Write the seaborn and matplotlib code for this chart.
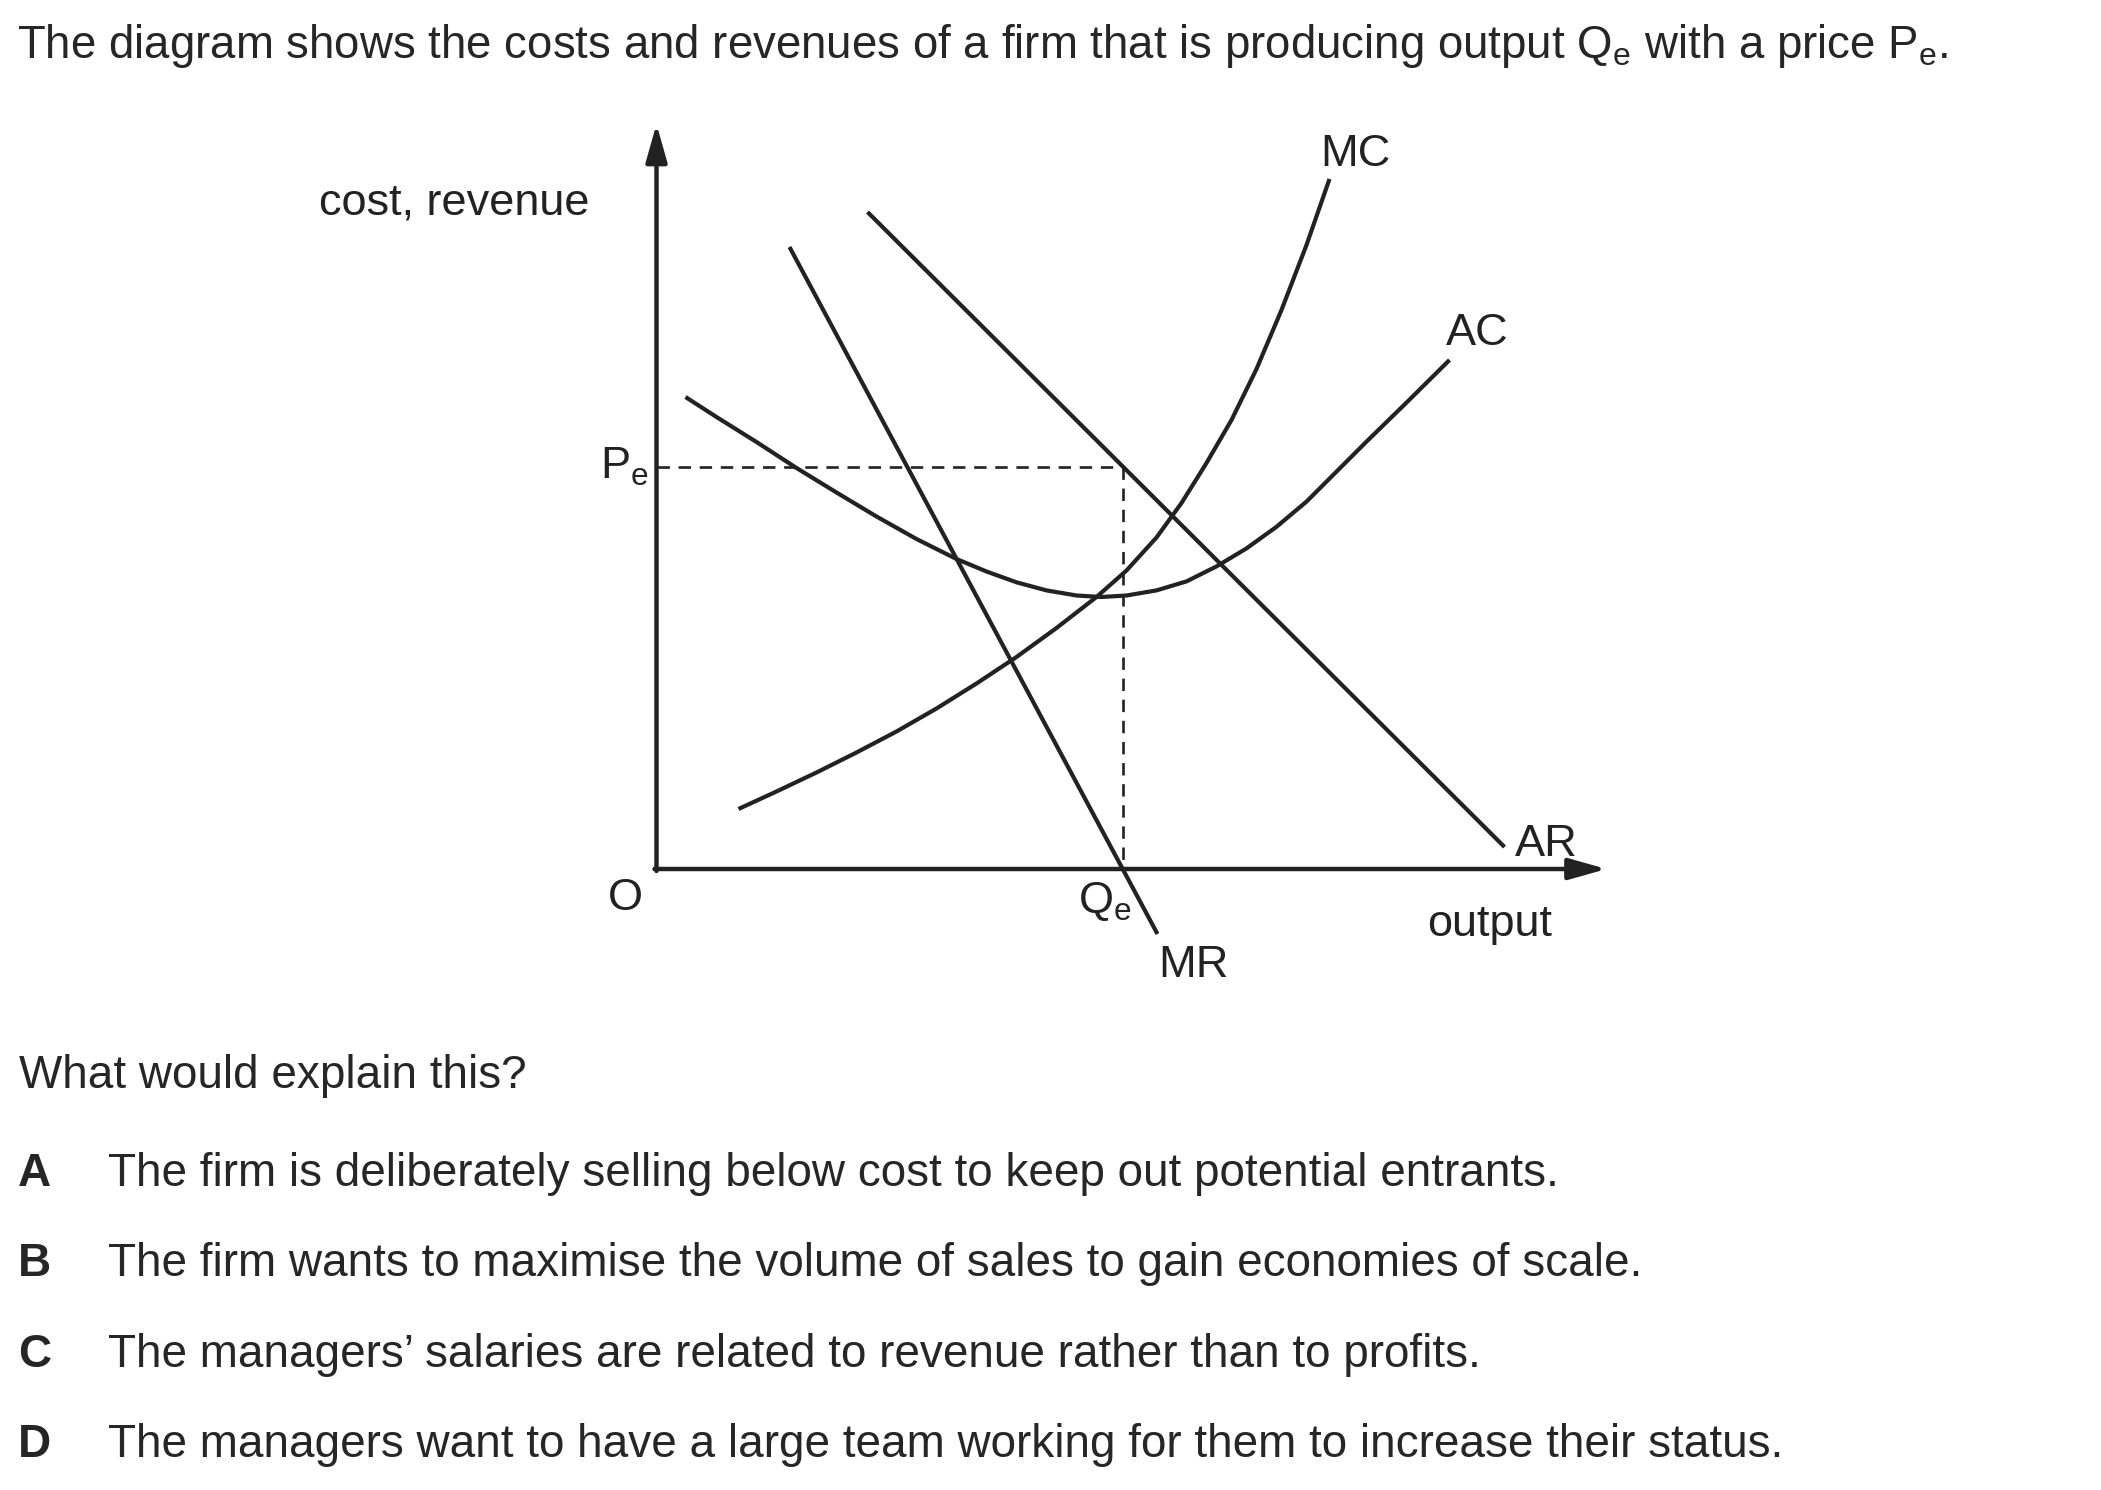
import numpy as np
import pandas as pd
import seaborn as sns
import matplotlib.pyplot as plt

# curve points (output on x, cost / revenue on y)
mc_x = [0.82, 1.2, 1.6, 2.0, 2.4, 2.8, 3.2, 3.6, 4.0, 4.4, 4.7, 5.0, 5.25, 5.5, 5.75, 6.0, 6.25, 6.5, 6.73]
mc_y = [0.60, 0.775, 0.965, 1.165, 1.375, 1.605, 1.855, 2.12, 2.41, 2.72, 2.985, 3.315, 3.66, 4.06, 4.49,
        5.00, 5.59, 6.24, 6.90]

ac_x = [0.29, 0.6, 1.0, 1.4, 1.8, 2.2, 2.6, 3.0, 3.3, 3.6, 3.9, 4.2, 4.45, 4.7, 5.0, 5.3, 5.6, 5.9, 6.2,
        6.5, 6.8, 7.1, 7.5, 7.93]
ac_y = [4.72, 4.52, 4.27, 4.01, 3.765, 3.525, 3.30, 3.10, 2.975, 2.867, 2.786, 2.735, 2.72, 2.735, 2.786,
        2.876, 3.026, 3.206, 3.422, 3.674, 3.974, 4.274, 4.664, 5.09]

ar_x = [2.11, 8.48]
ar_y = [6.57, 0.22]

mr_x = [1.33, 5.01]
mr_y = [6.22, -0.65]

qe = 4.66
pe = 4.02
y_top = 7.45
x_right = 9.50

title = "The diagram shows the costs and revenues of a firm that is producing output Q$_\\mathregular{e}$ with a price P$_\\mathregular{e}$."
question = "What would explain this?"
option_letters = ["A", "B", "C", "D"]
option_texts = [
    "The firm is deliberately selling below cost to keep out potential entrants.",
    "The firm wants to maximise the volume of sales to gain economies of scale.",
    "The managers\u2019 salaries are related to revenue rather than to profits.",
    "The managers want to have a large team working for them to increase their status.",
]

sns.set_style("white")
plt.rcParams['font.family'] = ['Liberation Sans', 'DejaVu Sans']

W, H = 2101, 1490
fig = plt.figure(figsize=(W / 100, H / 100), dpi=100)
ax = fig.add_axes([0, 0, 1, 1])

# origin of the diagram sits at pixel (656.5, 869), 100 px per unit
ox, oy = 656.5, 869
ax.set_xlim(-ox / 100, (W - ox) / 100)
ax.set_ylim(-(H - oy) / 100, oy / 100)
ax.set_axis_off()

ink = '#222222'
lw = 3.0

curves = pd.concat([
    pd.DataFrame({'x': mc_x, 'y': mc_y, 'curve': 'MC'}),
    pd.DataFrame({'x': ac_x, 'y': ac_y, 'curve': 'AC'}),
    pd.DataFrame({'x': ar_x, 'y': ar_y, 'curve': 'AR'}),
    pd.DataFrame({'x': mr_x, 'y': mr_y, 'curve': 'MR'}),
])
for name, d in curves.groupby('curve'):
    sns.lineplot(data=d, x='x', y='y', sort=False, estimator=None, color=ink, lw=lw, ax=ax,
                 solid_capstyle='butt', solid_joinstyle='round', clip_on=False)

# dashed guides for Pe and Qe
dash = (0, (4.7, 3.3))
sns.lineplot(x=[0, qe], y=[pe, pe], estimator=None, sort=False, color=ink, lw=1.9, linestyle=dash, ax=ax)
sns.lineplot(x=[qe, qe], y=[pe, 0], estimator=None, sort=False, color=ink, lw=1.9, linestyle=dash, ax=ax)

# axes with arrow heads
arrow = dict(arrowstyle='-|>,head_length=23,head_width=6.5', mutation_scale=1,
             lw=3.2, color=ink, shrinkA=0, shrinkB=0)
ax.annotate('', xy=(0, y_top), xytext=(0, -0.02), arrowprops=arrow)
ax.annotate('', xy=(x_right, 0), xytext=(-0.02, 0), arrowprops=arrow)


def ftext(px, py, s, size=33, **kw):
    fig.text(px / W, 1 - py / H, s, fontsize=size, va='baseline', ha='left', **kw)


lab = 32.5
ftext(319, 215, "cost, revenue", lab, color=ink)
ftext(600, 479, "P$_\\mathregular{e}$", lab, color=ink)
ftext(608, 910, "O", lab, color=ink)
ftext(1078, 913, "Q$_\\mathregular{e}$", lab, color=ink)
ftext(1158, 977, "MR", lab, color=ink)
ftext(1427, 936, "output", lab, color=ink)
ftext(1515, 856, "AR", lab, color=ink)
ftext(1446, 345, "AC", lab, color=ink)
ftext(1320, 166, "MC", lab, color=ink)

ftext(17, 58, title, 32.9)
ftext(19, 1088, question)
for i, (letter, text) in enumerate(zip(option_letters, option_texts)):
    base = 1186 + i * 90.3
    ftext(18, base, letter, fontweight='bold')
    ftext(108, base, text)

fig.savefig('out.png', dpi=100)
